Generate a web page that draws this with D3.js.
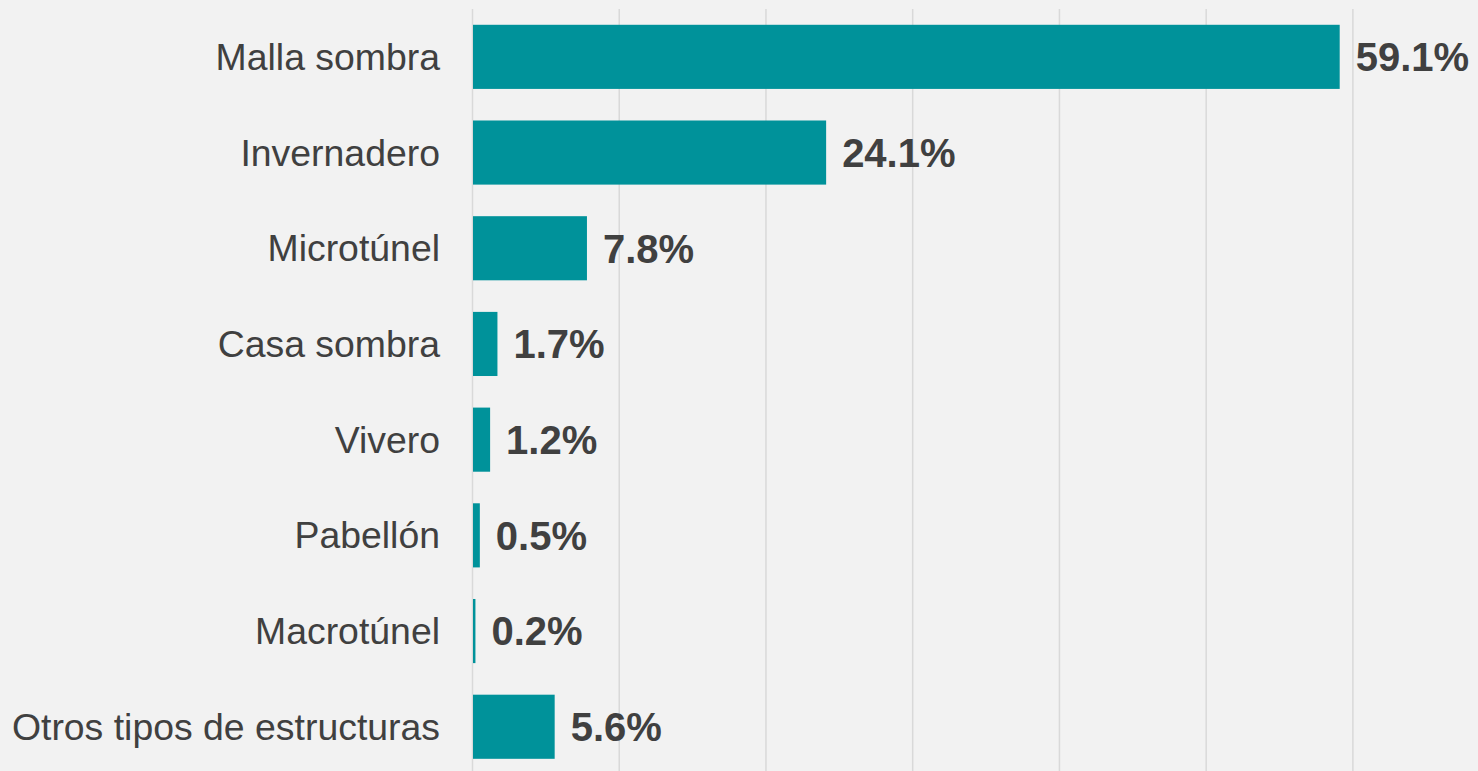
<!DOCTYPE html>
<html>
<head>
<meta charset="utf-8">
<script src="https://cdn.jsdelivr.net/npm/d3@7"></script>
<style>
  html, body { margin: 0; padding: 0; background: #F2F2F2; }
  svg { display: block; }
</style>
</head>
<body>
<script>
const categories = ["Malla sombra", "Invernadero", "Microtúnel", "Casa sombra", "Vivero", "Pabellón", "Macrotúnel", "Otros tipos de estructuras"];
const values = [59.1, 24.1, 7.8, 1.7, 1.2, 0.5, 0.2, 5.6];
const valueLabels = ["59.1%", "24.1%", "7.8%", "1.7%", "1.2%", "0.5%", "0.2%", "5.6%"];
const gridTicks = [0, 10, 20, 30, 40, 50, 60];

const W = 1478, H = 771;
const svg = d3.select("body").append("svg").attr("width", W).attr("height", H);
svg.append("rect").attr("width", W).attr("height", H).attr("fill", "#F2F2F2");

const x = d3.scaleLinear().domain([0, 60]).range([472.5, 1352.9]);
const y = d3.scaleBand().domain(categories).range([9, 774.6]).paddingInner(0.33).paddingOuter(0.165);

// gridlines
svg.append("g").selectAll("line").data(gridTicks).join("line")
  .attr("x1", d => x(d)).attr("x2", d => x(d))
  .attr("y1", 9).attr("y2", H)
  .attr("stroke", "#D9D9D9").attr("stroke-width", 1.5);

// bars
svg.append("g").selectAll("rect").data(categories).join("rect")
  .attr("x", x(0) + 0.5)
  .attr("y", d => y(d))
  .attr("width", (d, i) => Math.max(2, x(values[i]) - x(0) - 0.5))
  .attr("height", y.bandwidth())
  .attr("fill", "#00929A");

// category labels
svg.append("g").selectAll("text").data(categories).join("text")
  .attr("x", 440)
  .attr("y", d => y(d) + y.bandwidth() / 2)
  .attr("dy", "0.35em")
  .attr("text-anchor", "end")
  .attr("font-family", "Arial, 'Liberation Sans', sans-serif")
  .attr("font-size", 37.4)
  .attr("fill", "#404040")
  .text(d => d);

// value labels
svg.append("g").selectAll("text").data(categories).join("text")
  .attr("x", (d, i) => x(values[i]) + 16)
  .attr("y", d => y(d) + y.bandwidth() / 2)
  .attr("dy", "0.36em")
  .attr("font-family", "Arial, 'Liberation Sans', sans-serif")
  .attr("font-weight", "bold")
  .attr("font-size", 40)
  .attr("fill", "#404040")
  .text((d, i) => valueLabels[i]);
</script>
</body>
</html>
